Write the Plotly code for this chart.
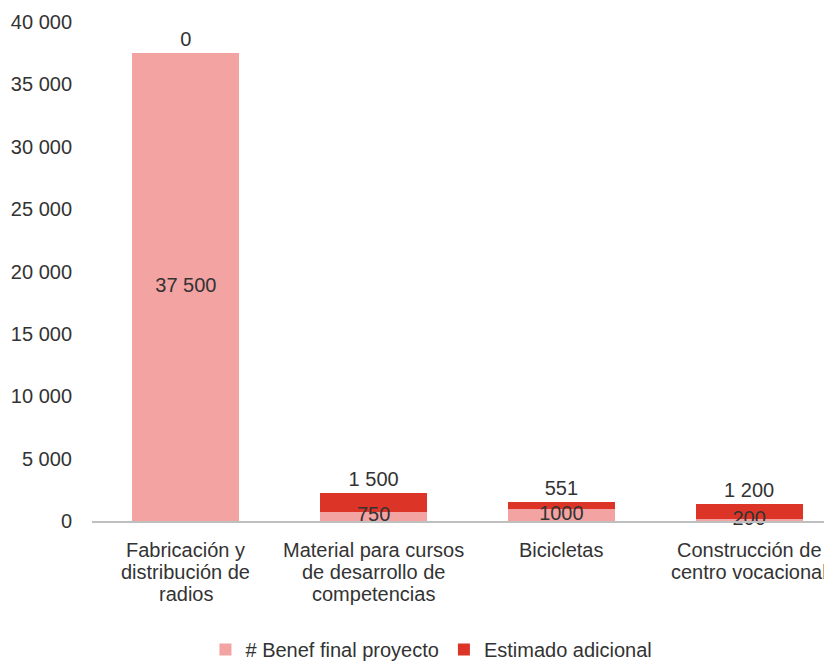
import plotly.graph_objects as go

categories = ["Fabricación y distribución de radios",
              "Material para cursos de desarrollo de competencias",
              "Bicicletas",
              "Construcción de centro vocacional"]
category_lines = [["Fabricación y", "distribución de", "radios"],
                  ["Material para cursos", "de desarrollo de", "competencias"],
                  ["Bicicletas"],
                  ["Construcción de", "centro vocacional"]]
benef_final = [37500, 750, 1000, 200]
estimado_adicional = [0, 1500, 551, 1200]
benef_labels = ["37 500", "750", "1000", "200"]
estimado_labels = ["0", "1 500", "551", "1 200"]
y_ticks = [0, 5000, 10000, 15000, 20000, 25000, 30000, 35000, 40000]
y_ticklabels = ["0", "5 000", "10 000", "15 000", "20 000", "25 000", "30 000", "35 000", "40 000"]

FS = 20
TXT = "#333333"
font = dict(family="Liberation Sans, Arial, sans-serif", size=FS, color=TXT)

fig = go.Figure()
fig.add_trace(go.Bar(
    x=categories, y=benef_final, name="# Benef final proyecto",
    marker=dict(color="#F4A3A3", line=dict(width=0)),
    cliponaxis=False,
))
fig.add_trace(go.Bar(
    x=categories, y=estimado_adicional, name="Estimado adicional",
    marker=dict(color="#DC3527", line=dict(width=0)),
    text=estimado_labels, textposition="outside",
    constraintext="none", textfont=dict(color=TXT, size=FS),
    cliponaxis=False,
))
# labels of the bottom series, drawn above both bars
fig.add_trace(go.Scatter(
    x=categories, y=[v / 2 for v in benef_final], mode="text",
    text=benef_labels, textposition="middle center",
    textfont=dict(color=TXT, size=FS), showlegend=False, hoverinfo="skip",
    cliponaxis=False,
))

annotations = []
for cat, lines in zip(categories, category_lines):
    for i, line in enumerate(lines):
        annotations.append(dict(
            x=cat, xref="x", y=0, yref="y", text=line, showarrow=False,
            yanchor="middle", yshift=-(29 + 22 * i),
            font=dict(size=FS, color=TXT),
        ))

fig.update_layout(
    barmode="stack", bargap=0.43,
    width=843, height=661,
    margin=dict(l=84, r=8, t=14, b=148, autoexpand=False),
    paper_bgcolor="white", plot_bgcolor="white",
    font=font,
    annotations=annotations,
    legend=dict(orientation="h", x=0.452, xanchor="center",
                yref="container", y=0.0, yanchor="bottom",
                font=dict(size=FS), itemwidth=30, traceorder="normal"),
    showlegend=True,
)
fig.update_yaxes(range=[0, 40000], tickvals=y_ticks, ticktext=y_ticklabels,
                 showgrid=False, zeroline=False, showline=False,
                 ticks="", ticklabelstandoff=19, automargin=False)
fig.update_xaxes(showline=True, linecolor="#BFBFBF", linewidth=1.5,
                 showgrid=False, ticks="", showticklabels=False, automargin=False)
fig.write_html("out.html", post_script="document.body.style.overflow='hidden';")
